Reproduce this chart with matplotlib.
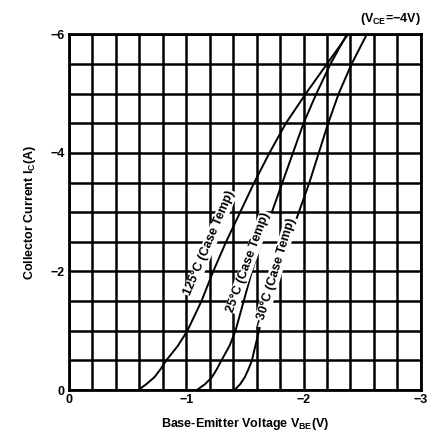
import numpy as np
import matplotlib
matplotlib.use("Agg")
import matplotlib.pyplot as plt

plt.rcParams['font.family'] = ['Liberation Sans', 'DejaVu Sans']
plt.rcParams['font.weight'] = 'bold'

# collector current (A), shared by all curves
ic = [0, -0.1, -0.22, -0.35, -0.5, -0.75, -1.0, -1.5, -2.0, -2.5, -3.0, -3.5, -4.0, -4.5, -5.0, -5.5, -6.0]
# base-emitter voltage (V) per case temperature
vbe_125 = [-0.59, -0.66, -0.73, -0.78, -0.83, -0.93, -1.01, -1.13, -1.23, -1.34, -1.46, -1.58, -1.71, -1.85, -2.02, -2.20, -2.38]
vbe_25 = [-1.09, -1.16, -1.22, -1.26, -1.30, -1.37, -1.42, -1.49, -1.56, -1.64, -1.73, -1.82, -1.91, -2.00, -2.11, -2.23, -2.37]
vbe_m30 = [-1.41, -1.46, -1.50, -1.53, -1.56, -1.59, -1.62, -1.69, -1.78, -1.87, -1.96, -2.05, -2.13, -2.21, -2.30, -2.41, -2.54]

labels = ["125°C (Case Temp)", "25°C (Case Temp)", "\u221230°C (Case Temp)"]
label_pos = [(-1.20, -2.48, 67), (-1.53, -2.16, 70), (-1.76, -1.99, 73)]

fig = plt.figure(figsize=(4.33, 4.33), dpi=100)
ax = fig.add_axes([0.159, 0.099, 0.813, 0.822])

for v in (vbe_125, vbe_25, vbe_m30):
    ax.plot(v, ic, color='black', lw=1.4, zorder=3)

for text, (x, y, rot) in zip(labels, label_pos):
    ax.text(x, y, text, rotation=rot, ha='center', va='center', fontsize=9,
            fontweight='bold', zorder=4, rotation_mode='anchor',
            bbox=dict(facecolor='white', edgecolor='none', pad=0.5))

ax.set_xlim(0, -3)
ax.set_ylim(0, -6)
ax.set_xticks([0, -1, -2, -3])
ax.set_yticks([0, -2, -4, -6])
ax.set_xticks(np.arange(0, -3.01, -0.2), minor=True)
ax.set_yticks(np.arange(0, -6.01, -0.5), minor=True)
ax.set_xticklabels(["0", "\u22121", "\u22122", "\u22123"])
ax.set_yticklabels(["0", "\u22122", "\u22124", "\u22126"])
ax.tick_params(which='both', length=0, labelsize=9, pad=3)
ax.grid(which='both', color='black', lw=1.8)
for s in ax.spines.values():
    s.set_linewidth(2)

ax.set_xlabel("Base-Emitter Voltage V$_{\\mathregular{BE}}$(V)", fontsize=9, fontweight='bold', labelpad=7)
ax.set_ylabel("Collector Current I$_{\\mathregular{C}}$(A)", fontsize=9, fontweight='bold', labelpad=9)
ax.text(1.0, 1.02, "(V$_{\\mathregular{CE}}$=\u22124V)", transform=ax.transAxes,
        ha='right', va='bottom', fontsize=9, fontweight='bold')

fig.savefig("out.png", dpi=100)
